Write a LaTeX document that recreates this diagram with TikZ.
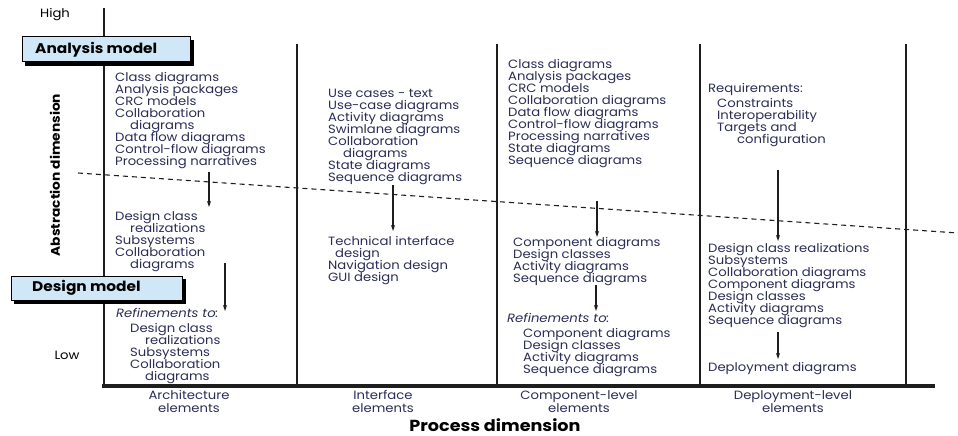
\documentclass[tikz,border=0pt]{standalone}
\usepackage{fontspec}
\setmainfont{Poppins}[FakeStretch=1.1]
\usetikzlibrary{arrows.meta}
\definecolor{txt}{HTML}{2A2D55}
\definecolor{boxfill}{HTML}{CFE7F6}
\definecolor{ln}{HTML}{1E1E1E}
\newcommand{\listfont}{\fontsize{12}{12}\selectfont\setlength{\lineskiplimit}{-100pt}}
\newcommand{\labelfont}{\fontsize{12}{13}\selectfont\setlength{\lineskiplimit}{-100pt}}
\begin{document}
\begin{tikzpicture}[x=1pt,y=-1pt,
  lst/.style={anchor=north west, inner sep=0pt, align=left, text=txt, font=\listfont},
  lbl/.style={inner sep=0pt, align=center, text=txt, font=\labelfont},
  ttl/.style={inner sep=0pt, text=black, font=\bfseries\fontsize{14}{16}\selectfont},
  colline/.style={draw=ln, line width=2.2pt},
  flow/.style={draw=ln, line width=1.1pt, -{Stealth[length=6pt,width=4pt]}},
  split/.style={draw=ln, line width=1.1pt, dash pattern=on 5pt off 4pt},
  modelbox/.style={draw=black, line width=1pt, fill=boxfill},
  shadowbox/.style={fill=black}
]
\useasboundingbox (0,0) rectangle (958,436);
% axes and columns
\draw[colline, line width=2.6pt] (104,8) -- (104,385);
\draw[colline] (297,44) -- (297,385);
\draw[colline] (497,44) -- (497,385);
\draw[colline] (700,44) -- (700,385);
\draw[colline] (906,44) -- (906,385);
\draw[draw=ln, line width=4pt] (102,386) -- (935,386);
% dashed split
\coordinate (d1) at (78,173);
\coordinate (d2) at (958,233);
\draw[split] (d1) -- (d2);
% model boxes
\fill[shadowbox] (25,40) rectangle (194,66);
\draw[modelbox] (22,37) rectangle (190,62);
\node[ttl, anchor=west] (am) at (35,49.5) {Analysis model};
\fill[shadowbox] (14,279) rectangle (186,304);
\draw[modelbox] (11,276) rectangle (182,300);
\node[ttl, anchor=west] (dm) at (32,288) {Design model};
% axis labels
\node[lbl, text=black] (high) at (55,15) {High};
\node[lbl, text=black] (low) at (67,355) {Low};
\node[ttl, rotate=90, font=\bfseries\fontsize{12.5}{14}\selectfont] (abs) at (55,175) {Abstraction dimension};
\node[ttl, font=\bfseries\fontsize{16}{18}\selectfont] (proc) at (495,425) {Process dimension};
% architecture column
\node[lst] (a1) at (115,72) {Class diagrams\\Analysis packages\\CRC models\\Collaboration\\\hspace*{15pt}diagrams\\Data flow diagrams\\Control-flow diagrams\\Processing narratives};
\node[lst] (a2) at (115,211) {Design class\\\hspace*{15pt}realizations\\Subsystems\\Collaboration\\\hspace*{15pt}diagrams};
\node[lst] (a3) at (116,308) {\itshape Refinements to:};
\node[lst] (a4) at (130,323) {Design class\\\hspace*{15pt}realizations\\Subsystems\\Collaboration\\\hspace*{15pt}diagrams};
\coordinate (ar1s) at (209,172);
\coordinate (ar1e) at (209,207);
\draw[flow] (ar1s) -- (ar1e);
\coordinate (ar2s) at (225,263);
\coordinate (ar2e) at (225,311);
\draw[flow] (ar2s) -- (ar2e);
% interface column
\node[lst] (i1) at (328,89) {Use cases - text\\Use-case diagrams\\Activity diagrams\\Swimlane diagrams\\Collaboration\\\hspace*{15pt}diagrams\\State diagrams\\Sequence diagrams};
\node[lst] (i2) at (328,236) {Technical interface\\\hspace*{7pt}design\\Navigation design\\GUI design};
\coordinate (ir1s) at (393,185);
\coordinate (ir1e) at (393,231);
\draw[flow] (ir1s) -- (ir1e);
% component column
\node[lst] (c1) at (508,59) {Class diagrams\\Analysis packages\\CRC models\\Collaboration diagrams\\Data flow diagrams\\Control-flow diagrams\\Processing narratives\\State diagrams\\Sequence diagrams};
\node[lst] (c2) at (513,237) {Component diagrams\\Design classes\\Activity diagrams\\Sequence diagrams};
\node[lst] (c3) at (507,313) {\itshape Refinements to:};
\node[lst] (c4) at (523,328) {Component diagrams\\Design classes\\Activity diagrams\\Sequence diagrams};
\coordinate (cr1s) at (597,201);
\coordinate (cr1e) at (597,237);
\draw[flow] (cr1s) -- (cr1e);
\coordinate (cr2s) at (596,285);
\coordinate (cr2e) at (596,311);
\draw[flow] (cr2s) -- (cr2e);
% deployment column
\node[lst] (p1) at (708,83) {Requirements:};
\node[lst] (p2) at (717,98) {Constraints\\Interoperability\\Targets and\\\hspace*{20pt}configuration};
\node[lst] (p3) at (708,243) {Design class realizations\\Subsystems\\Collaboration diagrams\\Component diagrams\\Design classes\\Activity diagrams\\Sequence diagrams};
\node[lst] (p4) at (708,362) {Deployment diagrams};
\coordinate (pr1s) at (778,170);
\coordinate (pr1e) at (778,241);
\draw[flow] (pr1s) -- (pr1e);
\coordinate (pr2s) at (778,332);
\coordinate (pr2e) at (778,359);
\draw[flow] (pr2s) -- (pr2e);
% bottom labels
\node[lbl] (b1) at (189,401.5) {Architecture\\elements};
\node[lbl] (b2) at (383,401.5) {Interface\\elements};
\node[lbl] (b3) at (579,401.5) {Component-level\\elements};
\node[lbl] (b4) at (793,401.5) {Deployment-level\\elements};
\end{tikzpicture}
\end{document}
